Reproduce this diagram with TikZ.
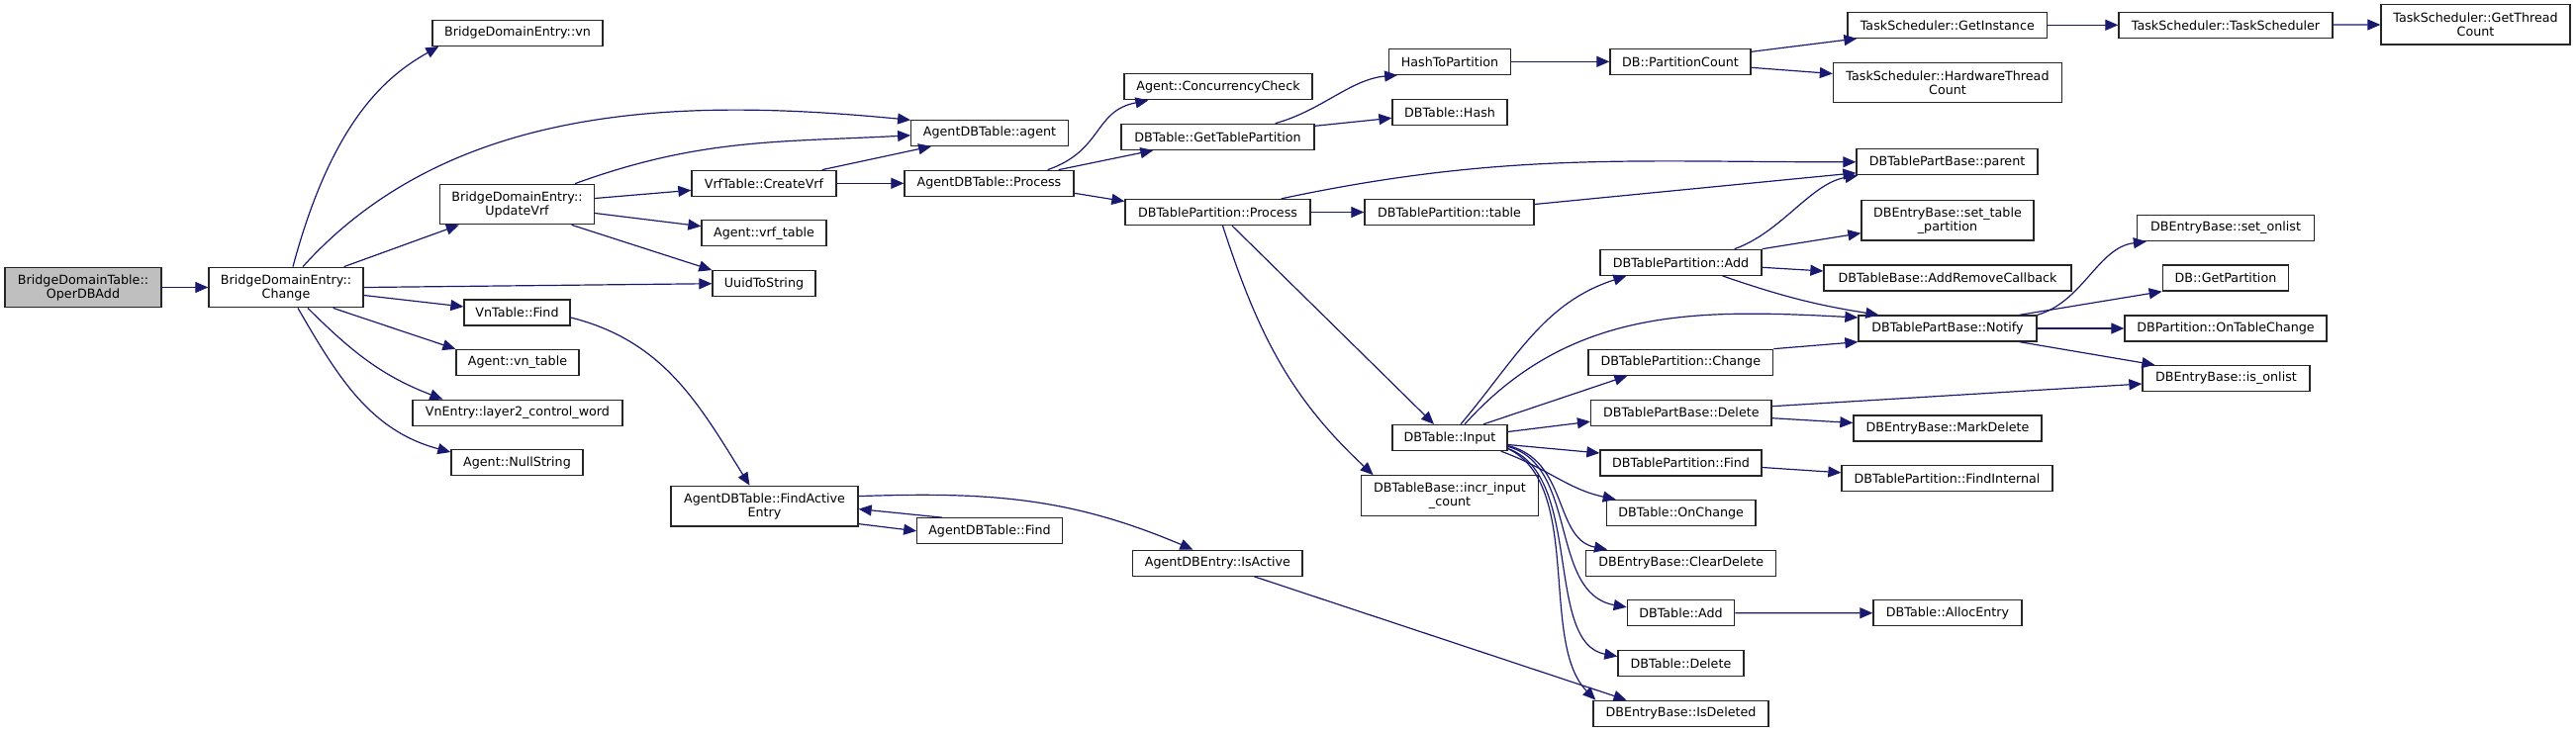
\documentclass[tikz,border=0pt]{standalone}
\usepackage{fontspec}
\setmainfont{DejaVu Sans}
\usepackage{xcolor}
\usepackage{tikz}
\usetikzlibrary{arrows.meta,positioning}

\definecolor{edgeblue}{HTML}{191970}

\tikzset{
  fn/.style={draw=black!85,line width=1.3pt,fill=white,inner sep=0pt,
    minimum height=26pt,align=center,font=\fontsize{12.7}{14}\selectfont},
  fntwo/.style={fn,minimum height=40.5pt},
  root/.style={fntwo,fill=black!25},
  call/.style={draw=edgeblue,line width=1.2pt,-{Triangle[length=13pt,width=11pt]}}
}

\begin{document}
\begin{tikzpicture}[x=1pt,y=1pt]
\useasboundingbox (0,0) rectangle (2603,-740);

% Column 1 and 2
\node[root,minimum width=158pt] (oper) at (84,-290.5) {BridgeDomainTable::\\OperDBAdd};
\node[fntwo,minimum width=156pt] (change) at (289,-290.5) {BridgeDomainEntry::\\Change};

% Column 3
\node[fn,minimum width=172pt] (bdvn) at (523,-33.3) {BridgeDomainEntry::vn};
\node[fntwo,minimum width=156pt] (updvrf) at (522.5,-206.5) {BridgeDomainEntry::\\UpdateVrf};
\node[fn,minimum width=107pt] (vnfind) at (522.5,-316) {VnTable::Find};
\node[fn,minimum width=124pt] (vntable) at (523,-366.5) {Agent::vn\_table};
\node[fn,minimum width=212pt] (l2cw) at (523,-417.2) {VnEntry::layer2\_control\_word};
\node[fn,minimum width=133pt] (nullstr) at (522.5,-467.7) {Agent::NullString};

% Column 4
\node[fn,minimum width=146pt] (createvrf) at (772,-185.3) {VrfTable::CreateVrf};
\node[fn,minimum width=126pt] (vrftable) at (772,-235.7) {Agent::vrf\_table};
\node[fn,minimum width=104pt] (uuid) at (772,-286.7) {UuidToString};
\node[fntwo,minimum width=189pt] (findactive) at (772.5,-511.6) {AgentDBTable::FindActive\\Entry};

% Column 5
\node[fn,minimum width=158.5pt] (adbagent) at (1000,-134.3) {AgentDBTable::agent};
\node[fn,minimum width=171pt] (adbprocess) at (999.5,-185.3) {AgentDBTable::Process};
\node[fn,minimum width=146.4pt] (adbfind) at (1000,-536.8) {AgentDBTable::Find};

% Column 6
\node[fn,minimum width=190pt] (concheck) at (1231,-87.8) {Agent::ConcurrencyCheck};
\node[fn,minimum width=195pt] (gettp) at (1230.5,-138.3) {DBTable::GetTablePartition};
\node[fn,minimum width=187pt] (tpprocess) at (1230.5,-214.5) {DBTablePartition::Process};
\node[fn,minimum width=171.3pt] (isactive) at (1230.4,-569.2) {AgentDBEntry::IsActive};

% Column 7
\node[fn,minimum width=122.5pt] (hashtp) at (1465,-62.3) {HashToPartition};
\node[fn,minimum width=116pt] (dbhash) at (1465,-113.3) {DBTable::Hash};
\node[fn,minimum width=171pt] (tptable) at (1464.5,-214.5) {DBTablePartition::table};
\node[fn,minimum width=116pt] (input) at (1465,-442.5) {DBTable::Input};
\node[fntwo,minimum width=179.5pt] (incr) at (1465,-501) {DBTableBase::incr\_input\\\_count};

% Column 8
\node[fn,minimum width=142pt] (partcount) at (1698,-62.3) {DB::PartitionCount};
\node[fn,minimum width=163pt] (tpadd) at (1698.5,-265.3) {DBTablePartition::Add};
\node[fn,minimum width=186.6pt] (tpchange) at (1698.3,-366.3) {DBTablePartition::Change};
\node[fn,minimum width=182.5pt] (pbdelete) at (1698.8,-417.2) {DBTablePartBase::Delete};
\node[fn,minimum width=163pt] (tpfind) at (1698.5,-468) {DBTablePartition::Find};
\node[fn,minimum width=150.7pt] (onchange) at (1698.7,-518.5) {DBTable::OnChange};
\node[fn,minimum width=192pt] (cleardelete) at (1698.7,-569.2) {DBEntryBase::ClearDelete};
\node[fn,minimum width=108.4pt] (dbadd) at (1698.5,-619.8) {DBTable::Add};
\node[fn,minimum width=127pt] (dbdelete) at (1698.5,-670.5) {DBTable::Delete};
\node[fn,minimum width=177pt] (isdeleted) at (1698.5,-721.3) {DBEntryBase::IsDeleted};

% Column 9
\node[fn,minimum width=201.6pt] (getinstance) at (1967.8,-25.3) {TaskScheduler::GetInstance};
\node[fntwo,minimum width=231pt] (hwthread) at (1968,-83.5) {TaskScheduler::HardwareThread\\Count};
\node[fn,minimum width=183pt] (parent) at (1967.5,-163.8) {DBTablePartBase::parent};
\node[fntwo,minimum width=174pt] (settp) at (1968,-222.7) {DBEntryBase::set\_table\\\_partition};
\node[fn,minimum width=250pt] (addremcb) at (1968,-281) {DBTableBase::AddRemoveCallback};
\node[fn,minimum width=180pt] (notify) at (1968,-332) {DBTablePartBase::Notify};
\node[fn,minimum width=190pt] (markdelete) at (1968,-433) {DBEntryBase::MarkDelete};
\node[fn,minimum width=213pt] (findinternal) at (1967.5,-483.8) {DBTablePartition::FindInternal};
\node[fn,minimum width=150pt] (allocentry) at (1968,-619.7) {DBTable::AllocEntry};

% Column 10 and 11
\node[fn,minimum width=216pt] (taskscheduler) at (2249,-25.3) {TaskScheduler::TaskScheduler};
\node[fn,minimum width=179pt] (setonlist) at (2249,-230.5) {DBEntryBase::set\_onlist};
\node[fn,minimum width=127.5pt] (getpartition) at (2249,-281) {DB::GetPartition};
\node[fn,minimum width=204pt] (ontablechange) at (2249,-332) {DBPartition::OnTableChange};
\node[fn,minimum width=169pt] (isonlist) at (2249.5,-382.5) {DBEntryBase::is\_onlist};
\node[fntwo,minimum width=191pt] (getthreadcount) at (2501.5,-24.8) {TaskScheduler::GetThread\\Count};

% Calls from the root
\draw[call] (oper) -- (change);
\draw[call] ([xshift=7pt]change.north) .. controls (336,-120) and (392,-76) .. ([xshift=7pt]bdvn.south west);
\draw[call] ([xshift=17pt]change.north) .. controls (459,-100) and (700,-100) .. ([yshift=13pt]adbagent.west);
\draw[call] ([xshift=-20pt]change.north east) -- ([xshift=20pt]updvrf.south west);
\draw[call] (change.east) -- (uuid.west);
\draw[call] ([yshift=-8pt]change.east) -- ([yshift=6pt]vnfind.west);
\draw[call] ([xshift=-31pt]change.south east) -- (vntable.north west);
\draw[call] ([xshift=22pt]change.south) to[out=-45,in=159] ([xshift=31pt]l2cw.north west);
\draw[call] ([xshift=12pt]change.south) to[out=-60,in=165] ([yshift=-3pt]nullstr.north west);

% UpdateVrf and CreateVrf
\draw[call] ([xshift=-20pt]updvrf.north east) to[out=20,in=183] ([yshift=-2.5pt]adbagent.west);
\draw[call] ([yshift=6pt]updvrf.east) -- ([yshift=-7pt]createvrf.west);
\draw[call] ([yshift=-9pt]updvrf.east) -- ([yshift=7pt]vrftable.west);
\draw[call] ([xshift=-23.5pt]updvrf.south east) -- (uuid.north west);
\draw[call] ([xshift=-15pt]createvrf.north east) -- ([xshift=21pt]adbagent.south west);
\draw[call] (createvrf) -- (adbprocess);

% Find path
\draw[call] ([yshift=-5pt]vnfind.east) to[out=-14,in=122] ([xshift=-15pt]findactive.north);
\draw[call] ([yshift=-18pt]findactive.east) -- (adbfind.west);
\draw[call] ([xshift=26pt]adbfind.north west) -- ([yshift=-3pt]findactive.east);
\draw[call] ([yshift=10pt]findactive.east) to[out=2,in=157] ([xshift=-25pt]isactive.north);
\draw[call] ([xshift=37pt]isactive.south) -- ([xshift=-55pt]isdeleted.north);

% Process path
\draw[call] ([xshift=-27pt]adbprocess.north east) .. controls (1115,-152) and (1105,-112) .. ([xshift=25pt]concheck.south west);
\draw[call] ([xshift=-16pt]adbprocess.north east) -- ([xshift=33pt]gettp.south west);
\draw[call] ([yshift=-10pt]adbprocess.east) -- ([yshift=11pt]tpprocess.west);
\draw[call] ([xshift=-40pt]gettp.north east) .. controls (1335,-112) and (1365,-80) .. ([xshift=9pt]hashtp.south west);
\draw[call] ([yshift=11pt]gettp.east) -- ([yshift=-6pt]dbhash.west);
\draw[call] (hashtp) -- (partcount);
\draw[call] ([yshift=10pt]partcount.east) -- ([xshift=10pt]getinstance.south west);
\draw[call] ([yshift=-6pt]partcount.east) -- ([yshift=9pt]hwthread.west);
\draw[call] (getinstance) -- (taskscheduler);
\draw[call] (taskscheduler) -- (getthreadcount);

% DBTablePartition::Process
\draw[call] ([xshift=-30pt]tpprocess.north east) to[out=12,in=180] (parent.west);
\draw[call] (tpprocess) -- (tptable);
\draw[call] ([xshift=14.5pt]tpprocess.south) -- ([xshift=-16pt]input.north);
\draw[call] ([xshift=5pt]tpprocess.south) to[out=-72,in=137] ([xshift=13pt]incr.north west);
\draw[call] ([yshift=8pt]tptable.east) -- ([yshift=-11pt]parent.west);

% DBTable::Input
\draw[call] ([xshift=11pt]input.north) to[out=50,in=198] ([xshift=27pt]tpadd.south west);
\draw[call] ([xshift=15pt]input.north) to[out=48,in=177] ([yshift=11pt]notify.west);
\draw[call] ([xshift=34pt]input.north) -- ([xshift=40pt]tpchange.south west);
\draw[call] ([yshift=6pt]input.east) -- ([yshift=-9pt]pbdelete.west);
\draw[call] ([yshift=-7pt]input.east) -- ([yshift=10pt]tpfind.west);
\draw[call] ([xshift=-7pt]input.south east) to[out=-20,in=168] ([xshift=10pt]onchange.north west);
\draw[call] ([yshift=-8pt]input.east) .. controls (1585,-465) and (1570,-545) .. ([xshift=22pt]cleardelete.north west);
\draw[call] ([yshift=-9pt]input.east) .. controls (1595,-470) and (1565,-600) .. ([yshift=6pt]dbadd.west);
\draw[call] ([yshift=-11pt]input.east) .. controls (1600,-480) and (1560,-650) .. ([yshift=7pt]dbdelete.west);
\draw[call] ([yshift=-11pt]input.east) .. controls (1600,-490) and (1555,-650) .. ([xshift=3pt]isdeleted.north west);

% Partition calls
\draw[call] ([xshift=-28pt]tpadd.north east) .. controls (1800,-235) and (1830,-185) .. ([xshift=2pt]parent.south west);
\draw[call] (tpadd.north east) -- ([yshift=-13pt]settp.west);
\draw[call] ([yshift=-5pt]tpadd.east) -- ([yshift=7pt]addremcb.west);
\draw[call] ([xshift=-40pt]tpadd.south east) to[bend right=5] ([xshift=21pt]notify.north west);
\draw[call] (tpchange.north east) -- (notify.south west);
\draw[call] ([yshift=6.5pt]pbdelete.east) -- ([yshift=-5.5pt]isonlist.west);
\draw[call] ([yshift=-5.5pt]pbdelete.east) -- ([yshift=5.5pt]markdelete.west);
\draw[call] ([yshift=-4.5pt]tpfind.east) -- ([yshift=6pt]findinternal.west);
\draw[call] (dbadd) -- (allocentry);

% Notify
\draw[call] (notify.north east) .. controls (2105,-305) and (2120,-250) .. ([xshift=10pt]setonlist.south west);
\draw[call] ([xshift=-18pt]notify.north east) -- (getpartition.south west);
\draw[call] (notify) -- (ontablechange);
\draw[call] ([xshift=-18pt]notify.south east) -- ([xshift=13pt]isonlist.north west);

\end{tikzpicture}
\end{document}
